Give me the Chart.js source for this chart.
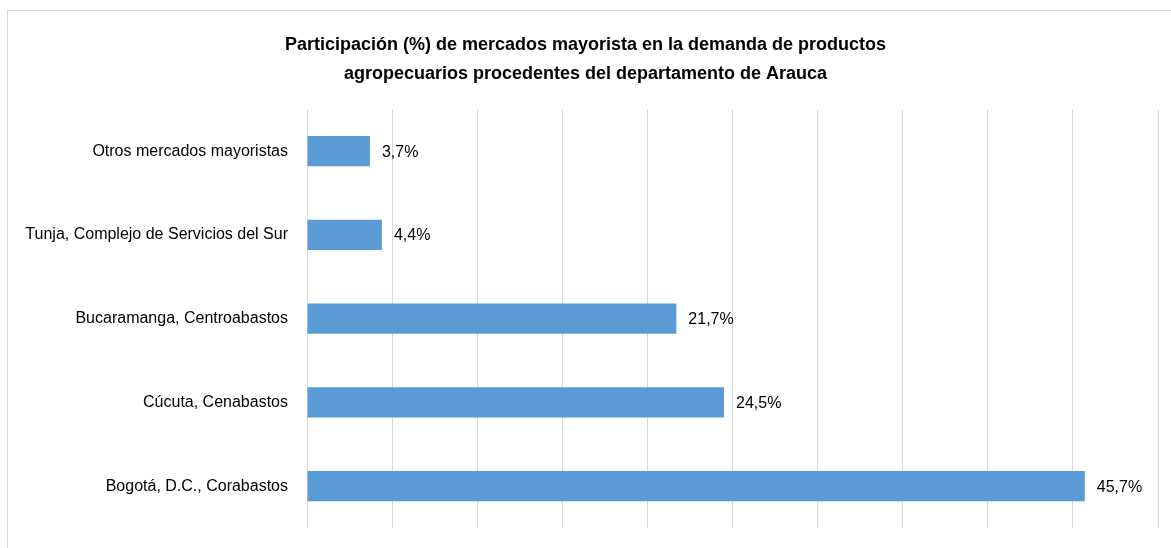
<!DOCTYPE html>
<html>
<head>
<meta charset="utf-8">
<script src="https://cdn.jsdelivr.net/npm/chart.js@4.4.1/dist/chart.umd.min.js"></script>
<style>
    body { margin: 0; background: #fff; }
    #frame { position: absolute; left: 7px; top: 10px; width: 1300px; height: 700px; border: 1px solid #d9d9d9; }
    #myChart { position: absolute; left: 0; top: 0; }
</style>
</head>
<body>
<div id="frame"></div>
<canvas id="myChart" width="1171" height="548"></canvas>
<script>
const FONT = '"Liberation Sans Narrow", "Arial Narrow", "Liberation Sans", Arial, sans-serif'

const title_lines = [
    'Participación (%) de mercados mayorista en la demanda de productos',
    'agropecuarios procedentes del departamento de Arauca'
]
const markets = [
    'Otros mercados mayoristas',
    'Tunja, Complejo de Servicios del Sur',
    'Bucaramanga, Centroabastos',
    'Cúcuta, Cenabastos',
    'Bogotá, D.C., Corabastos'
]
const shares = [3.7, 4.4, 21.7, 24.5, 45.7]

function format_pct(v) {
    return v.toFixed(1).replace('.', ',') + '%'
}

// draws the value next to the end of each bar
const bar_labels = {
    id: 'bar_labels',
    afterDatasetsDraw(chart) {
        let ctx = chart.ctx
        let meta = chart.getDatasetMeta(0)
        ctx.save()
        ctx.font = '16px ' + FONT
        ctx.fillStyle = '#000'
        ctx.textAlign = 'left'
        ctx.textBaseline = 'middle'
        meta.data.forEach((bar, i) => {
            ctx.fillText(format_pct(shares[i]), bar.x + 12, bar.y + 1)
        })
        ctx.restore()
    }
}

let data = {
    labels: markets,
    datasets: [{
        data: shares,
        backgroundColor: '#5b9bd5',
        borderWidth: 0,
        categoryPercentage: 1,
        barPercentage: 0.36
    }]
}

let config = {
    type: 'bar',
    data: data,
    options: {
        indexAxis: 'y',
        responsive: false,
        animation: false,
        layout: { padding: { left: 13, right: 13, top: 0, bottom: 20 } },
        plugins: {
            legend: { display: false },
            tooltip: { enabled: false },
            title: {
                display: true,
                text: title_lines,
                color: '#000',
                font: { family: FONT, size: 18, weight: 'bold', lineHeight: 1.62 },
                padding: { top: 30, bottom: 21 }
            }
        },
        scales: {
            x: {
                min: 0,
                max: 50,
                ticks: { display: false, stepSize: 5 },
                grid: { color: '#d9d9d9', lineWidth: 1, drawTicks: false },
                border: { display: false },
                afterFit(scale) { scale.height = 0 }
            },
            y: {
                grid: { display: false, drawTicks: false },
                border: { display: false },
                ticks: {
                    color: '#000',
                    padding: 19,
                    font: { family: FONT, size: 16 }
                },
                afterFit(scale) {
                    scale.width = 294
                    scale.paddingTop = 0
                    scale.paddingBottom = 0
                }
            }
        }
    },
    plugins: [bar_labels]
}

let myChart = new Chart(document.getElementById('myChart'), config)
</script>
</body>
</html>
